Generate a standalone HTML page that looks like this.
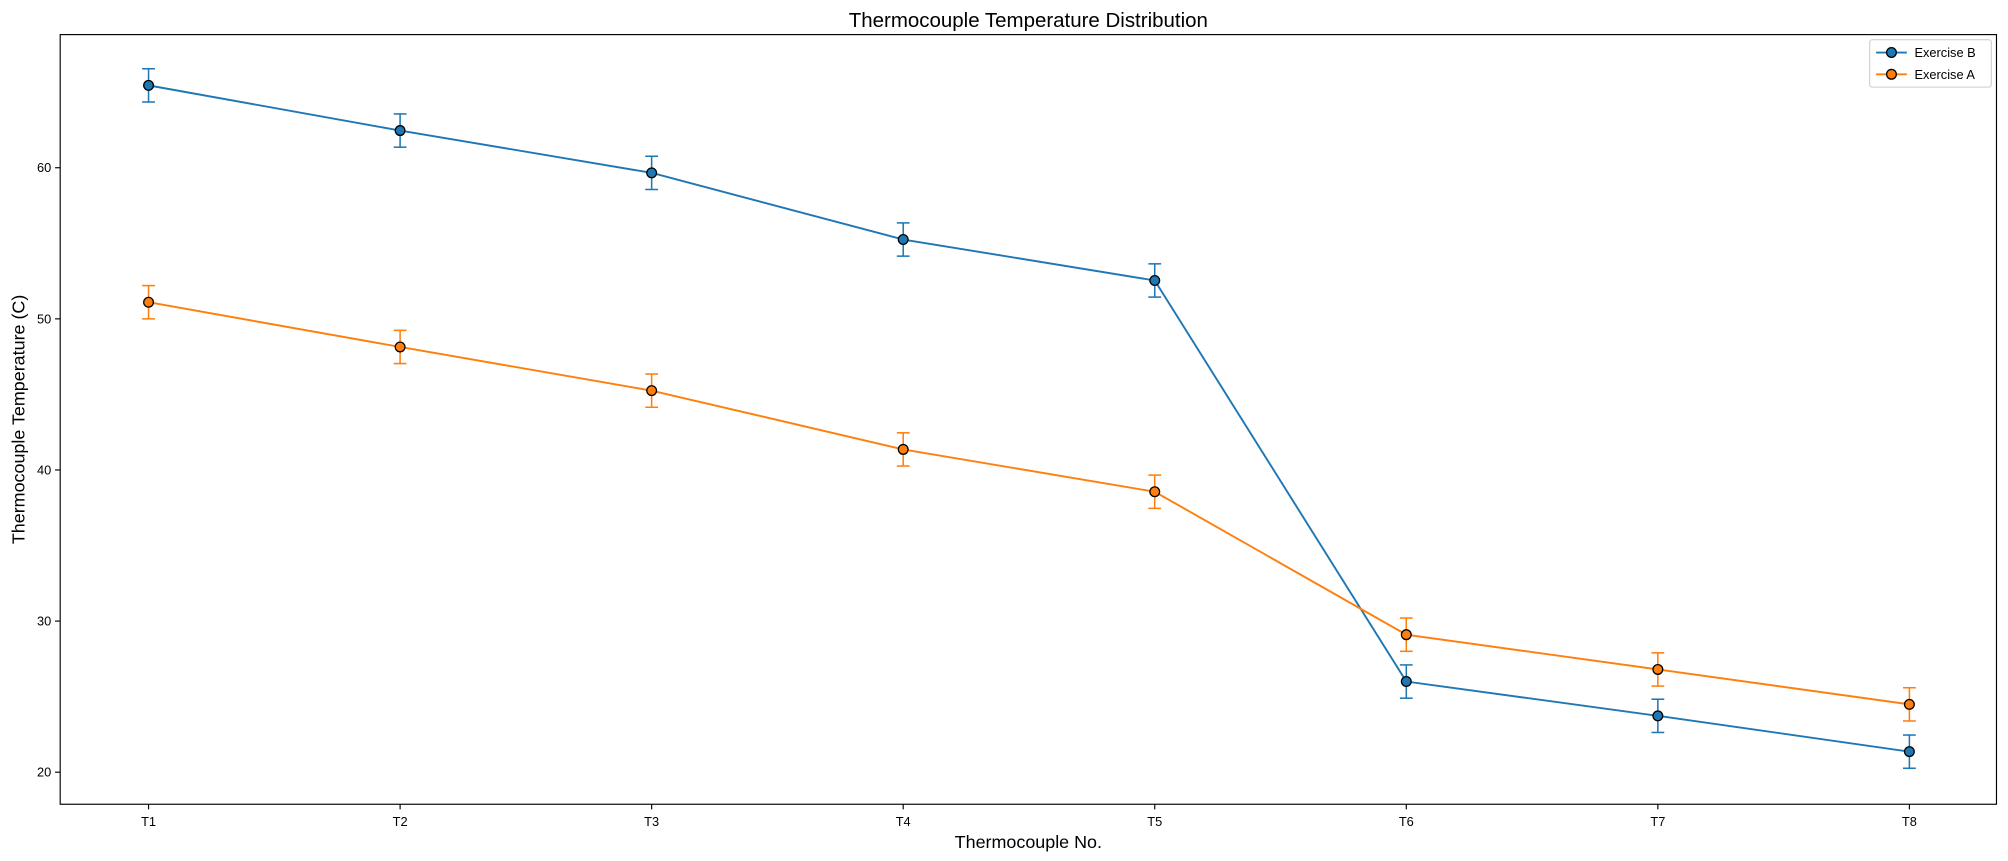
<!DOCTYPE html>
<html><head><meta charset="utf-8"><style>
html,body{margin:0;padding:0;background:#fff;}
svg{display:block;font-family:"Liberation Sans","DejaVu Sans",sans-serif;}
</style></head><body>
<svg id="chart" width="2008" height="861" viewBox="0 0 1568 672.3"></svg>
<script>
const categories = ["T1","T2","T3","T4","T5","T6","T7","T8"];
const seriesB = [65.45, 62.46, 59.66, 55.25, 52.54, 26.0, 23.73, 21.36];
const seriesA = [51.1, 48.14, 45.25, 41.36, 38.56, 29.1, 26.8, 24.49];
const errB = [1.1,1.1,1.1,1.1,1.1,1.1,1.1,1.1];
const errA = [1.1,1.1,1.1,1.1,1.1,1.1,1.1,1.1];
const yTicks = [20,30,40,50,60];

const svg = document.getElementById('chart');
const NS = 'http://www.w3.org/2000/svg';
const L=47,R=1559,T=27,B=628;
const yMin=17.88,yMax=68.81;
const x0=116,x1=1491;
function xs(i){return x0+(x1-x0)*i/(categories.length-1);}
function ys(v){return B-(v-yMin)/(yMax-yMin)*(B-T);}
function mk(tag,attrs,parent){const e=document.createElementNS(NS,tag);for(const k in attrs)e.setAttribute(k,attrs[k]);(parent||svg).appendChild(e);return e;}

categories.forEach((c,i)=>{
  const g=mk('g',{});
  
  
  mk('line',{x1:xs(i),x2:xs(i),y1:B,y2:B+4,stroke:'#000','stroke-width':0.9},g);
  const t=mk('text',{x:xs(i),y:B+17,'text-anchor':'middle','font-size':10,fill:'#000'},g);t.textContent=c;
});
yTicks.forEach(v=>{
  const g=mk('g',{});
  
  
  mk('line',{x1:L-4,x2:L,y1:ys(v),y2:ys(v),stroke:'#000','stroke-width':0.9},g);
  const t=mk('text',{x:L-7,y:ys(v)+3.5,'text-anchor':'end','font-size':10,fill:'#000'},g);t.textContent=v;
});

function drawSeries(vals,errs,color,name){
  const g=mk('g',{});
  
  
  vals.forEach((v,i)=>{
    const x=xs(i);
    mk('line',{x1:x,x2:x,y1:ys(v-errs[i]),y2:ys(v+errs[i]),stroke:color,'stroke-width':1.2},g);
    mk('line',{x1:x-5,x2:x+5,y1:ys(v-errs[i]),y2:ys(v-errs[i]),stroke:color,'stroke-width':1.2},g);
    mk('line',{x1:x-5,x2:x+5,y1:ys(v+errs[i]),y2:ys(v+errs[i]),stroke:color,'stroke-width':1.2},g);
  });
  mk('polyline',{points:vals.map((v,i)=>xs(i)+','+ys(v)).join(' '),fill:'none',stroke:color,'stroke-width':1.5},g);
  vals.forEach((v,i)=>{
    const c=mk('circle',{cx:xs(i),cy:ys(v),r:3.8,fill:color,stroke:'#000','stroke-width':1},g);
    
    
  });
}
drawSeries(seriesB,errB,'#1f77b4','series-exercise-b');
drawSeries(seriesA,errA,'#ff7f0e','series-exercise-a');

const fr=mk('rect',{x:L,y:T,width:R-L,height:B-T,fill:'none',stroke:'#000','stroke-width':0.9});


let t=mk('text',{x:(L+R)/2,y:21,'text-anchor':'middle','font-size':16,fill:'#000'});t.textContent='Thermocouple Temperature Distribution';

t=mk('text',{x:(L+R)/2,y:662,'text-anchor':'middle','font-size':14,fill:'#000'});t.textContent='Thermocouple No.';

t=mk('text',{x:19,y:(T+B)/2,'text-anchor':'middle','font-size':14,fill:'#000',transform:'rotate(-90 19 '+((T+B)/2)+')'});t.textContent='Thermocouple Temperature (C)';


const lg=mk('g',{});

mk('rect',{x:1460,y:31,width:95,height:37,rx:2,fill:'#fff',stroke:'#ccc','stroke-width':0.8},lg);
[['Exercise B','#1f77b4',41],['Exercise A','#ff7f0e',58]].forEach(([n,c,y])=>{
  const e=mk('g',{},lg);
  
  mk('line',{x1:1465,x2:1489,y1:y,y2:y,stroke:c,'stroke-width':1.5},e);
  mk('circle',{cx:1477,cy:y,r:3.8,fill:c,stroke:'#000','stroke-width':1},e);
  const tt=mk('text',{x:1495,y:y+3.5,'font-size':10,fill:'#000'},e);tt.textContent=n;
});
</script>
</body></html>
